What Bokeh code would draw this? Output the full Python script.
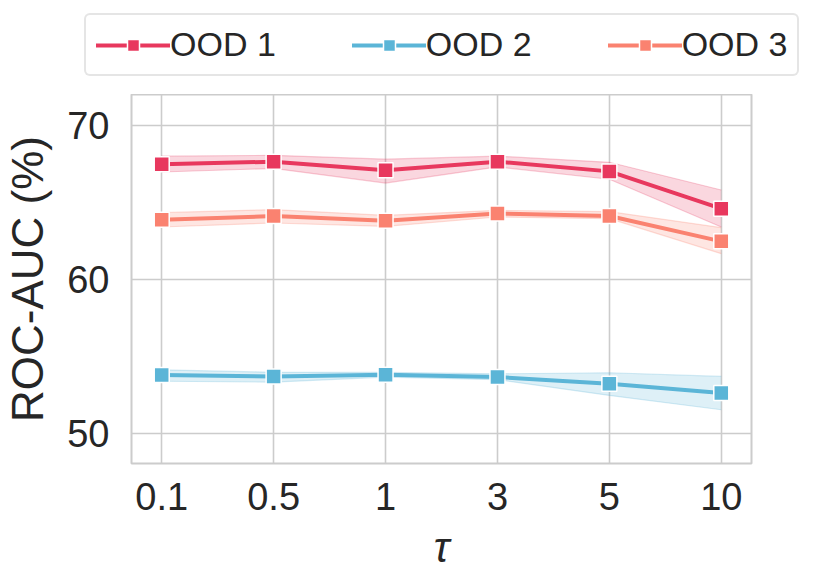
from bokeh.plotting import figure
from bokeh.models import (FactorRange, Range1d, FixedTicker, Legend, LegendItem,
                          ColumnDataSource)
from bokeh.embed import file_html
from bokeh.resources import INLINE

# ---- data ----
taus = ["0.1", "0.5", "1", "3", "5", "10"]
series_names = ["OOD 1", "OOD 2", "OOD 3"]
ood1 = [67.47, 67.64, 67.08, 67.64, 67.01, 64.59]
ood1_lo = [66.97, 67.20, 66.25, 67.30, 66.50, 63.40]
ood1_hi = [68.00, 68.05, 67.80, 68.00, 67.60, 65.80]
ood2 = [53.79, 53.70, 53.81, 53.66, 53.23, 52.62]
ood2_lo = [53.39, 53.33, 53.66, 53.49, 52.47, 51.54]
ood2_hi = [54.13, 53.97, 53.96, 53.87, 53.94, 53.70]
ood3 = [63.87, 64.11, 63.81, 64.27, 64.11, 62.47]
ood3_lo = [63.40, 63.66, 63.44, 64.05, 63.94, 61.67]
ood3_hi = [64.33, 64.53, 64.16, 64.48, 64.40, 63.36]
y_ticks = [50, 60, 70]

colors = ["#E8385E", "#5BB5D7", "#FA8270"]
FONT = "Liberation Sans"
TXT = "#262626"
GRID = "#CCCCCC"

p = figure(frame_width=620, frame_height=369, output_backend="svg", toolbar_location=None,
           x_range=FactorRange(*taus, range_padding=-0.23, range_padding_units="absolute"),
           y_range=Range1d(48.05, 72.0),
           min_border_left=131, min_border_right=48, min_border_top=0,
           min_border_bottom=107)

p.outline_line_color = GRID
p.outline_line_width = 2
p.background_fill_color = "white"
p.border_fill_color = "white"

p.xgrid.grid_line_color = GRID
p.ygrid.grid_line_color = GRID
p.xgrid.grid_line_width = 1.6
p.ygrid.grid_line_width = 1.6
p.yaxis.ticker = FixedTicker(ticks=y_ticks)

for ax in (p.xaxis[0], p.yaxis[0]):
    ax.axis_line_color = None
    ax.major_tick_line_color = None
    ax.minor_tick_line_color = None
    ax.major_label_text_font = FONT
    ax.major_label_text_font_size = "38px"
    ax.major_label_text_color = TXT
    ax.axis_label_text_font = FONT
    ax.axis_label_text_color = TXT
    ax.axis_label_text_font_style = "normal"

p.yaxis.axis_label = "ROC-AUC (%)"
p.yaxis.axis_label_text_font_size = "44px"
p.yaxis.major_label_standoff = 16
p.yaxis.axis_label_standoff = 12

p.xaxis.axis_label = "τ"
p.xaxis.axis_label_text_font_size = "42px"
p.xaxis.axis_label_text_font_style = "italic"
p.xaxis.major_label_standoff = 13
p.xaxis.axis_label_standoff = 11

# legend-only strip above the plot (its own ranges keep the data out of view)
lg = figure(width=799, height=94, output_backend="svg", toolbar_location=None,
            x_range=FactorRange(*taus), y_range=Range1d(0, 1),
            x_axis_location=None, y_axis_location=None,
            min_border_left=0, min_border_right=0, min_border_top=0,
            min_border_bottom=0)
lg.grid.visible = False
lg.outline_line_color = None
lg.border_fill_color = "white"
lg.background_fill_color = "white"

items = []
for name, mean, lo, hi, col in zip(series_names, [ood1, ood2, ood3],
                                   [ood1_lo, ood2_lo, ood3_lo],
                                   [ood1_hi, ood2_hi, ood3_hi], colors):
    src = ColumnDataSource(dict(x=taus, y=mean, lo=lo, hi=hi))
    p.varea(x="x", y1="lo", y2="hi", source=src, fill_color=col, fill_alpha=0.2)
    p.line(x="x", y="lo", source=src, line_color=col, line_alpha=0.25, line_width=1.2)
    p.line(x="x", y="hi", source=src, line_color=col, line_alpha=0.25, line_width=1.2)
    p.line(x="x", y="y", source=src, line_color=col, line_width=4, line_cap="round")
    p.scatter(x="x", y="y", source=src, marker="square", size=15,
              fill_color=col, line_color="white", line_width=1.5)
    ln = lg.line(x="x", y="y", source=src, line_color=col, line_width=4,
                 line_cap="round")
    sc = lg.scatter(x="x", y="y", source=src, marker="square", size=13,
                    fill_color=col, line_color="white", line_width=1.5)
    items.append(LegendItem(label=name, renderers=[ln, sc]))

legend = Legend(items=items, orientation="horizontal", location=(84, 18),
                label_text_font=FONT, label_text_font_size="34px",
                label_text_color=TXT, glyph_width=74, glyph_height=30,
                label_standoff=0, spacing=76, padding=10, margin=0,
                border_line_color=GRID, border_line_width=2,
                background_fill_alpha=1.0, label_height=36)
if "border_radius" in Legend.properties():
    legend.border_radius = 6
lg.add_layout(legend, "center")

open("out.html", "w").write(file_html([lg, p], INLINE))
